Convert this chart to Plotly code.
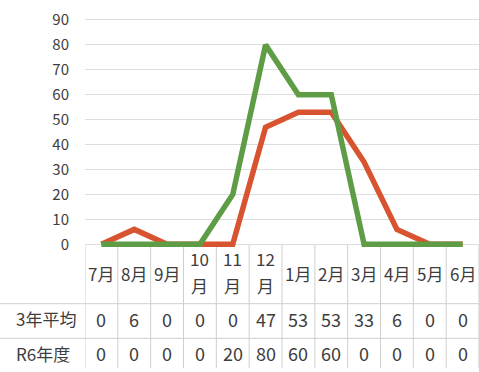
import plotly.graph_objects as go

# Monthly counts (July through June)
months = ["7月", "8月", "9月", "10\n月", "11\n月", "12\n月", "1月", "2月", "3月", "4月", "5月", "6月"]
avg_3yr = [0, 6, 0, 0, 0, 47, 53, 53, 33, 6, 0, 0]
r6 = [0, 0, 0, 0, 20, 80, 60, 60, 0, 0, 0, 0]
row_names = ["3年平均", "R6年度"]
y_ticks = [0, 10, 20, 30, 40, 50, 60, 70, 80, 90]

RED = "#d8532f"
GREEN = "#5e9c46"
TEXT = "#3d3d3d"
FONT = "Noto Sans CJK JP"

W, H = 479, 372
x_pos = list(range(len(months)))


def py(px):
    """Convert a pixel row (from top) to paper y."""
    return (H - px) / H


fig = go.Figure()
fig.add_trace(go.Scatter(x=x_pos, y=avg_3yr, mode="lines", name=row_names[0],
                         line=dict(color=RED, width=5.5)))
fig.add_trace(go.Scatter(x=x_pos, y=r6, mode="lines", name=row_names[1],
                         line=dict(color=GREEN, width=5.5)))

shapes = []
annotations = []

# table geometry (pixel rows)
axis_px = 247
header_bottom = 307
row1_bottom = 342
row_centers = [322, 357]


def label(x, y, text, xref="x", xanchor="center", size=17):
    return dict(x=x, y=y, xref=xref, yref="paper", text=text, showarrow=False,
                xanchor=xanchor, yanchor="middle",
                font=dict(size=size, color=TEXT, family=FONT))


# vertical cell borders
for i in range(len(months) + 1):
    shapes.append(dict(type="line", xref="x", yref="paper",
                       x0=i - 0.5, x1=i - 0.5, y0=0, y1=py(axis_px),
                       line=dict(color="#cfcfcf", width=1), layer="below"))
# horizontal row borders
for yb in (header_bottom, row1_bottom):
    shapes.append(dict(type="line", xref="paper", yref="paper",
                       x0=0, x1=1, y0=py(yb), y1=py(yb),
                       line=dict(color="#cfcfcf", width=1), layer="below"))

# month header labels
for i, m in enumerate(months):
    parts = m.split("\n")
    if len(parts) == 1:
        annotations.append(label(i, py(276), parts[0]))
    else:
        for txt, yp in zip(parts, (261, 289)):
            annotations.append(label(i, py(yp), txt))

# data rows
for name, vals, yc in zip(row_names, (avg_3yr, r6), row_centers):
    annotations.append(label(14 / W, py(yc), name, xref="paper", xanchor="left", size=17))
    for i, v in enumerate(vals):
        annotations.append(label(i, py(yc), str(v), size=18))

# y scale: 0 sits at pixel row 247, 98 units span 247 px
unit = axis_px / 98.0
ymin = -2
dom_bottom = (H - axis_px - (-ymin) * unit) / H

fig.update_layout(
    width=W, height=H,
    margin=dict(l=0, r=0, t=0, b=0),
    paper_bgcolor="white", plot_bgcolor="white",
    showlegend=False,
    xaxis=dict(domain=[85 / W, 1], range=[-0.5, 11.5], showgrid=False, zeroline=False,
               showticklabels=False, ticks="", fixedrange=True),
    yaxis=dict(domain=[dom_bottom, 1], range=[ymin, 98], tickvals=y_ticks,
               showgrid=True, gridcolor="#dddddd", gridwidth=1, zeroline=False,
               ticks="outside", ticklen=12, tickcolor="rgba(0,0,0,0)",
               tickfont=dict(size=15, color=TEXT, family=FONT), fixedrange=True),
    shapes=shapes,
    annotations=annotations,
)

fig.write_html("out.html")
